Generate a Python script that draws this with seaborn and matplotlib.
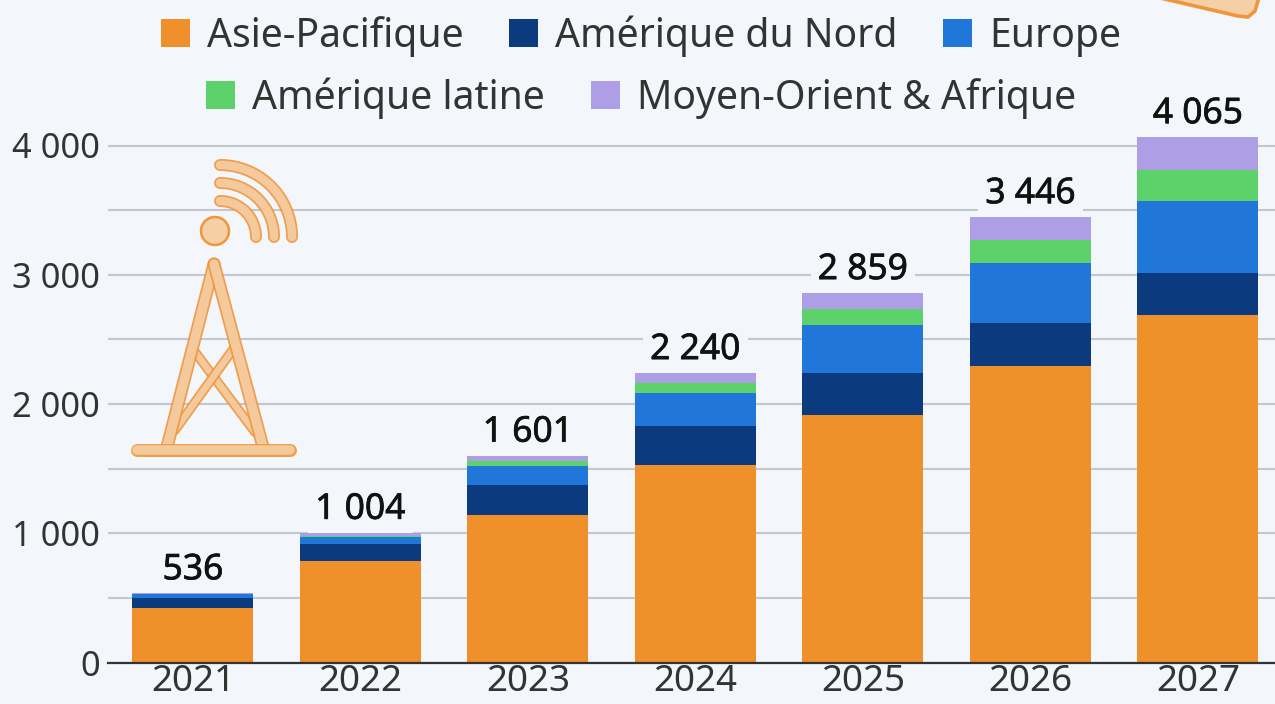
"""Stacked bars per region, 2021-2027, with totals and a small antenna icon."""

import matplotlib.patheffects as pe
import matplotlib.pyplot as plt
import numpy as np
import pandas as pd
import seaborn as sns
from matplotlib.lines import Line2D
from matplotlib.patches import Circle, Patch, Polygon
from matplotlib.transforms import Affine2D

YEARS = ["2021", "2022", "2023", "2024", "2025", "2026", "2027"]
ASIA = [422, 789, 1141, 1528, 1915, 2294, 2689]
NORTH_AMERICA = [77, 124, 232, 302, 325, 333, 325]
EUROPE = [31, 58, 147, 255, 371, 464, 557]
LATIN_AMERICA = [1, 4, 39, 77, 124, 178, 240]
MIDDLE_EAST = [5, 29, 42, 78, 124, 177, 254]
TOTALS = [536, 1004, 1601, 2240, 2859, 3446, 4065]

REGIONS = ["Asie-Pacifique", "Amérique du Nord", "Europe",
           "Amérique latine", "Moyen-Orient & Afrique"]
COLORS = ["#f0902b", "#0b3a7e", "#2076d9", "#5dd26a", "#ae9ee6"]
Y_TICKS = [0, 500, 1000, 1500, 2000, 2500, 3000, 3500, 4000]
Y_LABELS = ["0", "", "1 000", "", "2 000", "", "3 000", "", "4 000"]

BG = "#f3f7fb"
GRID = "#c3c8ce"
ICON_EDGE = "#f0953a"
ICON_FILL = "#f5cfa6"

W, H = 1275, 704
PX = 72 / 100  # points per pixel at dpi=100


def draw_icon(fig):
    # icon is traced in image pixels, y going down
    tr = Affine2D().scale(1, -1).translate(0, H)

    def stroke(xs, ys, width):
        for lw, col in ((width, ICON_EDGE), (width - 3.5, ICON_FILL)):
            fig.add_artist(Line2D(xs, ys, transform=tr, lw=lw * PX, color=col,
                                  solid_capstyle="round", solid_joinstyle="round",
                                  alpha=0.9))

    for radius in (36, 54, 72):
        t = np.linspace(0, np.pi / 2, 40)
        stroke(220 + radius * np.sin(t), 237 - radius * np.cos(t), 12)

    fig.add_artist(Circle((215, 231), 14, transform=tr, fc=ICON_FILL,
                          ec=ICON_EDGE, lw=1.8))
    stroke([195, 255], [352, 432], 10)
    stroke([234, 175], [348, 430], 10)
    stroke([214, 167], [264, 447], 13)
    stroke([214, 263], [264, 447], 13)
    stroke([137, 290], [450, 450], 13)

    fig.add_artist(Polygon([(1143, -6), (1238, 16), (1248, 17), (1255, 11), (1260, -6)],
                           closed=True, transform=tr, fc=ICON_FILL, ec=ICON_EDGE,
                           lw=2.6, joinstyle="round"))


def main():
    sns.set_theme(style="white")
    plt.rcParams["font.family"] = ["Noto Sans", "DejaVu Sans"]

    series = [ASIA, NORTH_AMERICA, EUROPE, LATIN_AMERICA, MIDDLE_EAST]
    df = pd.DataFrame(dict(zip(REGIONS, series)), index=YEARS)

    fig = plt.figure(figsize=(W / 100, H / 100), dpi=100, facecolor=BG)
    ax = fig.add_axes([108 / W, (H - 662.5) / H, (W - 108) / W, 662.5 / H])
    ax.set_facecolor(BG)

    bottom = np.zeros(len(YEARS))
    for region, color in zip(REGIONS, COLORS):
        plot_df = pd.DataFrame({"year": YEARS, "value": df[region].values})
        sns.barplot(data=plot_df, x="year", y="value", color=color, bottom=bottom,
                    width=0.722, saturation=1, linewidth=0, ax=ax, zorder=3)
        bottom = bottom + df[region].values

    for i, total in enumerate(TOTALS):
        label = f"{total:,}".replace(",", " ")
        # bbox sits under the bars so it only hides the gridline
        txt = ax.annotate(label, xy=(i, total), xytext=(0, 10), textcoords="offset points",
                          ha="center", va="baseline", fontsize=25.5,
                          color="#111111", zorder=2.5,
                          bbox=dict(boxstyle="square,pad=0.2", fc=BG, ec="none"))
        txt.set_path_effects([pe.withStroke(linewidth=0.5, foreground="#111111")])

    ax.set_xlim(-0.507, 6.46)
    ax.set_ylim(0, 662.5 / 0.12925)
    ax.set_yticks(Y_TICKS)
    ax.set_yticklabels(Y_LABELS)
    ax.set_xlabel("")
    ax.set_ylabel("")
    ax.grid(axis="y", color=GRID, lw=1.5, zorder=1)
    ax.set_axisbelow(True)
    # slightly smaller than the source so the year labels stay inside the canvas
    ax.tick_params(axis="x", length=0, labelsize=26.5, pad=1, labelcolor="#333333")
    ax.tick_params(axis="y", length=0, labelsize=24.8, pad=6, labelcolor="#333333")
    sns.despine(ax=ax, left=True, top=True, right=True)
    ax.spines["bottom"].set_color("#333333")
    ax.spines["bottom"].set_linewidth(1.6)
    ax.spines["bottom"].set_zorder(5)

    handles = [Patch(fc=c, lw=0, label=r) for r, c in zip(REGIONS, COLORS)]
    common = dict(frameon=False, fontsize=28.2, labelcolor="#333333", handlelength=0.74,
                  handleheight=0.74, handletextpad=0.44, columnspacing=1.16,
                  loc="center", borderpad=0)
    first = fig.legend(handles=handles[:3], ncol=3,
                       bbox_to_anchor=(641 / W, (H - 36) / H), **common)
    second = fig.legend(handles=handles[3:], ncol=2,
                        bbox_to_anchor=(641 / W, (H - 98) / H), **common)
    first.set_zorder(6)
    second.set_zorder(6)

    draw_icon(fig)
    fig.savefig("out.png", dpi=100, facecolor=BG)
    plt.close(fig)


if __name__ == "__main__":
    main()
